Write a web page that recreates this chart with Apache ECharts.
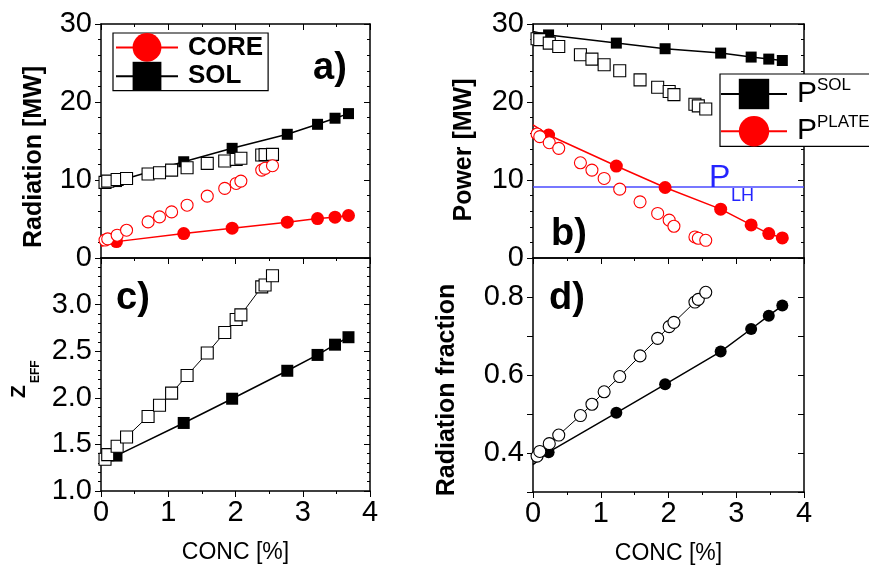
<!DOCTYPE html>
<html><head><meta charset="utf-8">
<script src="https://cdn.jsdelivr.net/npm/echarts@6/dist/echarts.min.js"></script>
<style>html,body{margin:0;padding:0;background:#fff}#c{width:869px;height:569px}</style>
</head><body><div id="c"></div>
<script>
// ---------- data ----------
const concOpen   = [0.06, 0.10, 0.24, 0.38, 0.70, 0.87, 1.05, 1.28, 1.58, 1.84, 2.01, 2.08, 2.39, 2.44, 2.55];
const concFilled = [0, 0.23, 1.23, 1.95, 2.77, 3.22, 3.48, 3.68];

// a) Radiation [MW]
const solRadFilled  = [8.9, 9.8, 12.34, 14.06, 15.86, 17.14, 17.92, 18.51];
const coreRadFilled = [1.5, 2.1, 3.13, 3.82, 4.59, 5.06, 5.23, 5.45];
const solRadOpen    = [9.7, 9.85, 10.07, 10.2, 10.76, 10.93, 11.27, 11.57, 12.13, 12.43, 12.65, 12.78, 13.2, 13.25, 13.29];
const coreRadOpen   = [2.3, 2.45, 2.92, 3.56, 4.63, 5.27, 5.91, 6.77, 7.93, 8.92, 9.56, 9.86, 11.27, 11.5, 11.83];

// b) Power [MW]
const pSolFilled    = [29.05, 28.6, 27.55, 26.83, 26.27, 25.76, 25.5, 25.32];
const pPlateFilled  = [17.06, 15.77, 11.79, 9.04, 6.26, 4.24, 3.13, 2.57];
const pSolOpen      = [28.1, 28.0, 27.55, 27.12, 26.05, 25.5, 24.77, 24.0, 22.84, 21.9, 21.34, 20.95, 19.72, 19.5, 19.11];
const pPlateOpen    = [15.9, 15.56, 14.78, 14.06, 12.21, 11.27, 10.2, 8.83, 7.2, 5.71, 4.85, 4.07, 2.7, 2.53, 2.27];
const plhX = [0, 4];
const plhY = [9.1, 9.1];

// c) Z_EFF
const zeffFilled = [1.28, 1.38, 1.73, 1.99, 2.29, 2.46, 2.57, 2.65];
const zeffOpen   = [1.34, 1.39, 1.48, 1.58, 1.80, 1.92, 2.05, 2.24, 2.48, 2.70, 2.84, 2.89, 3.19, 3.21, 3.31];

// d) Radiation fraction
const fracFilled = [0.37, 0.402, 0.503, 0.576, 0.660, 0.718, 0.752, 0.778];
const fracOpen   = [0.392, 0.404, 0.424, 0.446, 0.496, 0.525, 0.557, 0.596, 0.649, 0.694, 0.724, 0.735, 0.787, 0.794, 0.812];

// tick / axis texts
const xTicks = [0, 1, 2, 3, 4];
const xName = 'CONC [%]';

// ---------- chart ----------
const FONT = '"Liberation Sans", Arial, Helvetica, sans-serif';
const RED = '#ff0000', BLACK = '#000000', BLUE = '#2424ff';

const grids = [
  {left: 101, top: 24,  width: 269, height: 234},
  {left: 533, top: 24,  width: 271, height: 234},
  {left: 101, top: 258, width: 269, height: 233},
  {left: 533, top: 258, width: 271, height: 234}
].map(g => Object.assign({outerBoundsMode: 'none', containLabel: false}, g));

function axisBase(pos, inside) {
  return {
    type: 'value', position: pos,
    axisLine: {show: true, onZero: false, lineStyle: {color: BLACK, width: 1.5}},
    axisTick: {show: true, inside: inside, length: 6, lineStyle: {color: BLACK, width: 1}},
    splitLine: {show: false}, minorSplitLine: {show: false},
    axisPointer: {show: false}
  };
}
function xAx(gi, pos, labels) {
  const a = axisBase(pos, pos === 'top');
  Object.assign(a, {gridIndex: gi, min: xTicks[0], max: xTicks[xTicks.length - 1], interval: 1,
    minorTick: {show: true, splitNumber: 2, length: 3, lineStyle: {color: BLACK, width: 1}},
    axisLabel: {show: labels, fontSize: 29, color: BLACK, fontFamily: FONT, margin: 7}});
  if (labels) {
    a.name = xName; a.nameLocation = 'middle'; a.nameGap = 50;
    a.nameTextStyle = {fontSize: 23, color: BLACK, fontFamily: FONT};
  }
  return a;
}
function yAx(gi, pos, min, max, interval, minorSplit, fmt) {
  const a = axisBase(pos, pos === 'right');
  Object.assign(a, {gridIndex: gi, min: min, max: max, interval: interval,
    minorTick: {show: minorSplit > 0, splitNumber: minorSplit || 2, length: 3, lineStyle: {color: BLACK, width: 1}},
    axisLabel: {show: pos === 'left', fontSize: 29, color: BLACK, fontFamily: FONT, margin: 9, formatter: fmt,
                showMinLabel: true, showMaxLabel: true}});
  return a;
}
const fInt = v => String(Math.round(v));
const fC = v => (v > 3.45 ? '' : v.toFixed(1));
const fD = v => { const r = Math.round(v * 10); return (r === 4 || r === 6 || r === 8) ? (r / 10).toFixed(1) : ''; };

const xAxis = [], yAxis = [];
[0, 1, 2, 3].forEach(gi => {
  xAxis.push(xAx(gi, 'bottom', gi >= 2));
  xAxis.push(xAx(gi, 'top', false));
});
yAxis.push(yAx(0, 'left', 0, 30, 10, 5, fInt));   yAxis.push(yAx(0, 'right', 0, 30, 10, 5, fInt));
yAxis.push(yAx(1, 'left', 0, 30, 10, 5, fInt));   yAxis.push(yAx(1, 'right', 0, 30, 10, 5, fInt));
yAxis.push(yAx(2, 'left', 1.0, 3.5, 0.5, 5, fC)); yAxis.push(yAx(2, 'right', 1.0, 3.5, 0.5, 5, fC));
yAxis.push(yAx(3, 'left', 0.3, 0.9, 0.1, 0, fD)); yAxis.push(yAx(3, 'right', 0.3, 0.9, 0.1, 0, fD));

function pts(xs, ys, hideFirst) {
  return xs.map((x, i) => (hideFirst && i === 0) ? {value: [x, ys[i]], symbol: 'none'} : [x, ys[i]]);
}
function filled(name, gi, ys, symbol, size, color) {
  return {name: name, type: 'line', xAxisIndex: 2 * gi, yAxisIndex: 2 * gi,
    data: pts(concFilled, ys, true), symbol: symbol, symbolSize: size,
    itemStyle: {color: color}, lineStyle: {color: color, width: 1.5},
    emphasis: {disabled: true}, z: 3, silent: true};
}
function open(name, gi, ys, symbol, size, color, withLine) {
  return {name: name, type: withLine ? 'line' : 'scatter', xAxisIndex: 2 * gi, yAxisIndex: 2 * gi,
    data: pts(concOpen, ys, false), symbol: symbol, symbolSize: size,
    itemStyle: {color: '#ffffff', borderColor: color, borderWidth: 1.1, opacity: 1},
    lineStyle: {color: color, width: 1}, emphasis: {disabled: true}, z: 4, silent: true};
}

const series = [
  filled('SOL', 0, solRadFilled, 'rect', 11, BLACK),
  filled('CORE', 0, coreRadFilled, 'circle', 13, RED),
  open('SOL open', 0, solRadOpen, 'rect', 12, BLACK, false),
  open('CORE open', 0, coreRadOpen, 'circle', 12, RED, false),

  {name: 'PLH', type: 'line', xAxisIndex: 2, yAxisIndex: 2, data: pts(plhX, plhY, false),
   symbol: 'none', lineStyle: {color: '#4a4aff', width: 1.5}, z: 2, silent: true},
  filled('PSOL', 1, pSolFilled, 'rect', 11, BLACK),
  filled('PPLATE', 1, pPlateFilled, 'circle', 13, RED),
  open('PSOL open', 1, pSolOpen, 'rect', 12, BLACK, false),
  open('PPLATE open', 1, pPlateOpen, 'circle', 12, RED, false),

  filled('ZEFF', 2, zeffFilled, 'rect', 12, BLACK),
  open('ZEFF open', 2, zeffOpen, 'rect', 12, BLACK, true),

  filled('FRAC', 3, fracFilled, 'circle', 12, BLACK),
  open('FRAC open', 3, fracOpen, 'circle', 12, BLACK, true)
];

function txt(x, y, text, size, opts) {
  opts = opts || {};
  return {type: 'text', x: x, y: y, rotation: opts.rot || 0, z: 50, silent: true,
    style: {text: text, fill: opts.color || BLACK, fontSize: size, fontWeight: opts.bold ? 'bold' : 'normal',
      fontFamily: FONT, textAlign: opts.align || 'left', align: opts.align || 'left',
      textVerticalAlign: opts.valign || 'middle', verticalAlign: opts.valign || 'middle'}};
}
const R90 = Math.PI / 2;
const graphic = [
  txt(313, 69, 'a)', 38, {bold: true}),
  txt(551, 235, 'b)', 38, {bold: true}),
  txt(116, 299, 'c)', 38, {bold: true}),
  txt(549, 299, 'd)', 38, {bold: true}),
  txt(34, 157, 'Radiation [MW]', 25, {bold: true, rot: R90, align: 'center'}),
  txt(464, 150, 'Power [MW]', 25, {bold: true, rot: R90, align: 'center'}),
  txt(19, 398, 'Z', 21, {bold: true, rot: R90, align: 'left'}),
  txt(36, 383, 'EFF', 12, {bold: true, rot: R90, align: 'left'}),
  txt(447, 390, 'Radiation fraction', 25, {bold: true, rot: R90, align: 'center'}),
  txt(709, 178, 'P', 32, {color: BLUE}),
  txt(731, 196, 'LH', 18, {color: BLUE})
];

const legend = [
  {orient: 'vertical', left: 113, top: 33, padding: [0, 5, 0, 2], itemGap: 0,
   itemWidth: 62, itemHeight: 36, borderColor: BLACK, borderWidth: 1.2, backgroundColor: '#fff',
   data: ['CORE', 'SOL'], selectedMode: false,
   textStyle: {fontSize: 26, fontWeight: 'bold', color: BLACK, fontFamily: FONT, padding: [0, 0, 0, 5]}},
  {orient: 'vertical', left: 720, top: 74, padding: [3, 40, 0, 0], itemGap: 5,
   itemWidth: 66, itemHeight: 38, borderColor: BLACK, borderWidth: 1.2, backgroundColor: '#fff',
   data: ['PSOL', 'PPLATE'], selectedMode: false,
   formatter: n => '{p|P}{s|' + n.slice(1) + '}',
   textStyle: {color: BLACK, fontFamily: FONT, padding: [0, 0, 0, 5],
     rich: {p: {fontSize: 30, fontFamily: FONT, color: BLACK, lineHeight: 34},
            s: {fontSize: 17, fontFamily: FONT, color: BLACK, verticalAlign: 'top', lineHeight: 34}}}}
];

const chart = echarts.init(document.getElementById('c'), null, {renderer: 'canvas'});
chart.setOption({
  backgroundColor: '#ffffff', animation: false, tooltip: {show: false},
  grid: grids, xAxis: xAxis, yAxis: yAxis, series: series, legend: legend, graphic: graphic
});
</script>
</body></html>
